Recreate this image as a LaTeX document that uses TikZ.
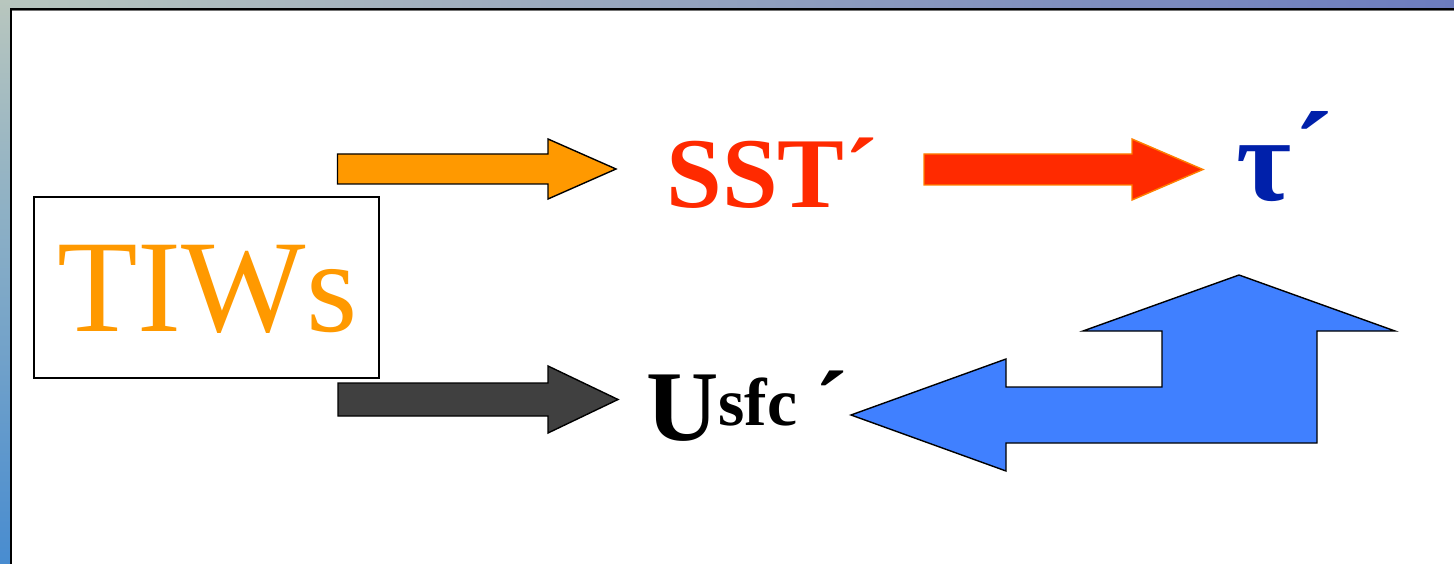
\documentclass[tikz,border=0pt]{standalone}
\usepackage{fontspec}
\setmainfont{Liberation Serif}
\usetikzlibrary{calc}

\definecolor{tiworange}{RGB}{255,153,0}
\definecolor{sstred}{RGB}{255,42,0}
\definecolor{redrim}{RGB}{255,128,0}
\definecolor{darkarrow}{RGB}{64,64,64}
\definecolor{bluearrow}{RGB}{64,128,255}
\definecolor{taublue}{RGB}{0,32,170}
\definecolor{stripgreen}{RGB}{184,198,190}
\definecolor{stripviolet}{RGB}{108,124,190}
\definecolor{stripblue}{RGB}{72,140,208}

% horizontal block arrow: style, tail x, head-base x, tip x, centre y, shaft half-width, head half-width
\newcommand\hblockarrow[7]{%
  \path[#1] (#2,#5-#6) -- (#3,#5-#6) -- (#3,#5-#7) -- (#4,#5)
    -- (#3,#5+#7) -- (#3,#5+#6) -- (#2,#5+#6) -- cycle;}

\begin{document}
\begin{tikzpicture}[x=0.02cm,y=-0.02cm,
  label text/.style={anchor=base west, inner sep=0pt},
  outlined/.style={draw=black, line width=0.8pt, line join=miter}]

\useasboundingbox (0,0) rectangle (1454,564);

% slide backdrop strips and frame
\shade[left color=stripgreen, right color=stripviolet] (0,0) rectangle (1454,9);
\shade[top color=stripgreen, bottom color=stripblue] (0,0) rectangle (11,564);
\fill[white] (11,9) rectangle (1454,564);
\draw[black!55, line width=0.6pt] (12,10.5) -- (1454,10.5);
\draw[black, line width=1.2pt] (11,564) -- (11,9) -- (1454,9);

% source box
\draw[black, line width=0.8pt] (34,197) rectangle (379,378);
\node[label text, text=tiworange, font=\fontsize{75}{75}\selectfont] (tiws) at (57,332) {TIWs};

% targets
\node[label text, text=sstred, font=\bfseries\fontsize{57}{57}\selectfont] (sst) at (666,208) {SST´};
\node[label text, text=taublue, font=\bfseries\fontsize{68}{68}\selectfont] (tau) at (1236,201)
  {τ\kern1pt\raisebox{3.5pt}{´}};
\node[label text, text=black, font=\bfseries\fontsize{57}{57}\selectfont] (usfc) at (646,440)
  {U\raisebox{8.5pt}{\fontsize{38.5}{38.5}\selectfont sfc}\,´};

% block arrows
\hblockarrow{outlined, fill=tiworange}{337.5}{548}{616}{169}{15}{30}
\hblockarrow{fill=sstred, draw=redrim, line width=0.8pt}{924}{1132}{1203}{169.5}{15.5}{30.5}
\hblockarrow{outlined, fill=darkarrow}{338}{548}{618}{399.5}{16.5}{33.5}

% feedback arrow from the surface stress back to the current
\path[outlined, fill=bluearrow]
  (851,415) -- (1006,359) -- (1006,387) -- (1162,387) -- (1162,331) -- (1083,331)
  -- (1239,275) -- (1395,331) -- (1317,331) -- (1317,443) -- (1006,443)
  -- (1006,471) -- cycle;

\end{tikzpicture}
\end{document}
